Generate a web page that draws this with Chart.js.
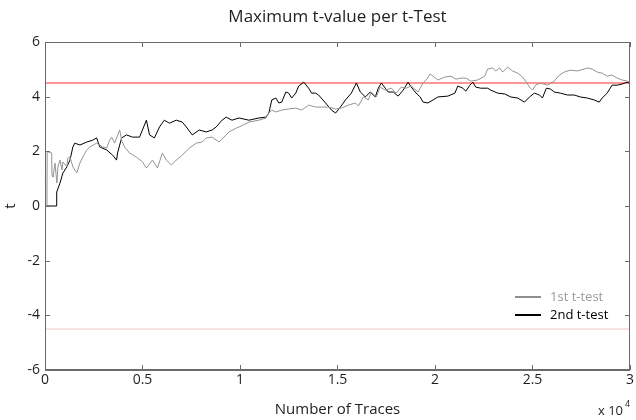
<!DOCTYPE html>
<html lang="en">
<head>
<meta charset="UTF-8" />
<title>Maximum t-value per t-Test</title>
<script src="https://cdn.jsdelivr.net/npm/chart.js"></script>
<style>
  body { margin: 0; background: #fff; }
  canvas { display: block; }
</style>
</head>
<body>
<canvas id="chart" width="636" height="420"></canvas>
<script>
// values (x = number of traces, y = t)
const firstTraces = [0, 100, 110, 340, 360, 410, 510, 610, 660, 770, 870, 920, 1120, 1170, 1280, 1430, 1630, 1790, 1940, 2140, 2300, 2650, 2960, 3160, 3320, 3420, 3570, 3830, 3930, 4080, 4340, 4690, 5000, 5200, 5510, 5770, 6020, 6220, 6480, 6730, 7040, 7400, 7760, 8060, 8270, 8570, 8930, 9180, 9440, 9800, 9950, 10460, 10970, 11330, 11480, 11630, 11840, 12140, 12500, 12860, 13160, 13520, 13880, 14180, 14540, 14900, 15200, 15560, 15920, 16070, 16330, 16580, 16740, 16990, 17190, 17450, 17760, 18010, 18270, 18520, 18780, 19130, 19390, 19540, 19750, 19900, 20150, 20510, 20820, 21070, 21330, 21580, 21840, 22190, 22550, 22700, 22960, 23110, 23320, 23470, 23720, 23980, 24240, 24490, 24640, 24850, 25000, 25150, 25410, 25770, 26120, 26380, 26630, 26940, 27300, 27650, 27810, 28060, 28320, 28570, 28830, 29080, 29340, 29590, 29850, 30000];
const firstT = [0, 0, 1.99, 1.94, 1.13, 1.06, 1.57, 0.84, 1.43, 1.68, 1.32, 1.61, 1.43, 1.75, 1.79, 1.43, 1.21, 1.57, 1.79, 2.05, 2.16, 2.30, 2.16, 2.12, 2.41, 2.52, 2.30, 2.78, 2.41, 2.16, 1.94, 1.79, 1.61, 1.39, 1.68, 1.39, 1.94, 1.68, 1.50, 1.68, 1.86, 2.12, 2.30, 2.34, 2.49, 2.52, 2.34, 2.52, 2.71, 2.85, 2.89, 3.07, 3.14, 3.22, 3.40, 3.51, 3.44, 3.51, 3.55, 3.58, 3.51, 3.69, 3.62, 3.62, 3.62, 3.55, 3.58, 3.69, 3.77, 3.66, 3.99, 3.88, 4.17, 3.99, 4.35, 4.24, 4.31, 4.13, 4.35, 4.31, 4.39, 4.17, 4.50, 4.61, 4.83, 4.75, 4.61, 4.72, 4.75, 4.64, 4.68, 4.68, 4.57, 4.61, 4.75, 5.01, 5.05, 4.94, 5.05, 4.90, 5.08, 4.94, 4.86, 4.72, 4.57, 4.35, 4.24, 4.42, 4.50, 4.42, 4.57, 4.79, 4.90, 4.97, 4.94, 5.01, 5.05, 5.01, 4.90, 4.86, 4.75, 4.79, 4.68, 4.61, 4.57, 4.53];

const secondTraces = [0, 590, 600, 770, 920, 1120, 1280, 1430, 1530, 1790, 2140, 2450, 2650, 2810, 3160, 3470, 3670, 3720, 3930, 4180, 4490, 4850, 5200, 5360, 5610, 5870, 6120, 6380, 6730, 7040, 7250, 7550, 7910, 8270, 8570, 8780, 9080, 9290, 9590, 9950, 10460, 10970, 11330, 11480, 11630, 11840, 11990, 12140, 12350, 12500, 12650, 12860, 13010, 13270, 13520, 13670, 13880, 14030, 14390, 14690, 14900, 15150, 15410, 15710, 15970, 16170, 16430, 16680, 16940, 17090, 17250, 17450, 17600, 17860, 18110, 18370, 18620, 18780, 19030, 19240, 19390, 19640, 19900, 20150, 20660, 21020, 21170, 21430, 21580, 21790, 21940, 22090, 22350, 22700, 22860, 23210, 23570, 23880, 24240, 24590, 24850, 25100, 25360, 25510, 25710, 25920, 26120, 26430, 26790, 27140, 27450, 27810, 28160, 28420, 28570, 28830, 29080, 29340, 29590, 29850, 29950];
const secondT = [0, 0, 0.51, 0.84, 1.21, 1.43, 1.68, 2.16, 2.30, 2.23, 2.34, 2.41, 2.49, 2.16, 2.05, 1.86, 1.68, 1.94, 2.49, 2.60, 2.52, 2.52, 3.14, 2.60, 2.49, 2.89, 3.14, 3.03, 3.14, 3.07, 2.89, 2.60, 2.78, 2.71, 2.78, 2.89, 3.14, 3.25, 3.14, 3.22, 3.14, 3.22, 3.25, 3.40, 3.88, 3.95, 3.77, 3.80, 4.17, 4.13, 3.95, 4.13, 4.39, 4.53, 4.31, 4.13, 4.13, 4.06, 3.77, 3.51, 3.40, 3.62, 3.88, 4.13, 4.50, 4.17, 3.99, 4.17, 3.99, 4.31, 4.50, 4.31, 4.17, 4.17, 4.02, 4.24, 4.53, 4.35, 4.13, 3.99, 3.80, 3.77, 3.88, 3.99, 4.02, 4.13, 4.39, 4.31, 4.20, 4.42, 4.53, 4.35, 4.31, 4.31, 4.24, 4.13, 4.10, 3.99, 3.95, 3.80, 3.99, 4.13, 4.06, 3.95, 4.31, 4.28, 4.17, 4.13, 4.06, 4.06, 3.99, 3.95, 3.88, 3.80, 3.95, 4.13, 4.42, 4.42, 4.46, 4.53, 4.50];

const thresholds = [4.5, -4.5];
const xRange = [0, 30000];
const yRange = [-6, 6];
const seriesNames = ["1st t-test", "2nd t-test"];

const textColor = "#1f1f1f";
const boxColor = "#6b6b6b";

function toPoints(xs, ys) {
  return xs.map((x, i) => ({ x: x, y: ys[i] }));
}

// box, inward ticks, legend and the x10^4 exponent
const matlabAxes = {
  id: "matlabAxes",
  afterDraw(chart) {
    const ctx = chart.ctx;
    const a = chart.chartArea;
    const xs = chart.scales.x, ys = chart.scales.y;
    ctx.save();
    ctx.strokeStyle = boxColor;
    ctx.lineWidth = 1;
    ctx.strokeRect(a.left + 0.5, a.top + 0.5, a.right - a.left - 1, a.bottom - a.top - 1);
    ctx.beginPath();
    xs.ticks.forEach(t => {
      const px = Math.round(xs.getPixelForValue(t.value)) + 0.5;
      ctx.moveTo(px, a.bottom); ctx.lineTo(px, a.bottom - 5);
      ctx.moveTo(px, a.top); ctx.lineTo(px, a.top + 5);
    });
    ys.ticks.forEach(t => {
      const py = Math.round(ys.getPixelForValue(t.value)) + 0.5;
      ctx.moveTo(a.left, py); ctx.lineTo(a.left + 5, py);
      ctx.moveTo(a.right, py); ctx.lineTo(a.right - 5, py);
    });
    ctx.stroke();

    // legend
    const items = [
      { label: seriesNames[0], color: "#8f8f8f", text: "#9a9a9a", y: a.bottom - 73 },
      { label: seriesNames[1], color: "#000000", text: "#000000", y: a.bottom - 55 }
    ];
    ctx.font = "13px 'Open Sans'";
    ctx.textBaseline = "middle";
    ctx.textAlign = "left";
    items.forEach(it => {
      ctx.strokeStyle = it.color;
      ctx.lineWidth = 2;
      ctx.beginPath();
      ctx.moveTo(a.right - 115, it.y); ctx.lineTo(a.right - 89, it.y);
      ctx.stroke();
      ctx.fillStyle = it.text;
      ctx.fillText(it.label, a.right - 80, it.y);
    });

    // exponent
    ctx.fillStyle = textColor;
    ctx.font = "13px 'Open Sans'";
    ctx.fillText("x 10", a.right - 32, 411);
    ctx.font = "9px 'Open Sans'";
    ctx.fillText("4", a.right - 5, 404);
    ctx.restore();
  }
};

new Chart(document.getElementById("chart").getContext("2d"), {
  type: "line",
  data: {
    datasets: [
      {
        label: seriesNames[0],
        data: toPoints(firstTraces, firstT),
        borderColor: "#939393",
        borderWidth: 1
      },
      {
        label: seriesNames[1],
        data: toPoints(secondTraces, secondT),
        borderColor: "#000000",
        borderWidth: 1
      },
      {
        label: "upper",
        data: toPoints(xRange, [thresholds[0], thresholds[0]]),
        borderColor: "#ff2a2a",
        borderWidth: 1
      },
      {
        label: "lower",
        data: toPoints(xRange, [thresholds[1], thresholds[1]]),
        borderColor: "#f6c4c4",
        borderWidth: 1
      }
    ]
  },
  options: {
    responsive: false,
    animation: false,
    devicePixelRatio: 1,
    elements: { point: { radius: 0 }, line: { tension: 0 } },
    layout: { padding: { top: 0, right: 4, left: 0, bottom: 0 } },
    plugins: {
      legend: { display: false },
      tooltip: { enabled: false },
      title: {
        display: true,
        text: "Maximum t-value per t-Test",
        fullSize: false,
        color: textColor,
        font: { family: "'Open Sans'", size: 17, weight: "normal" },
        padding: { top: 7, bottom: 14.6 }
      }
    },
    scales: {
      x: {
        type: "linear",
        min: xRange[0],
        max: xRange[1],
        afterFit: s => { s.height = 50; },
        grid: { display: false, drawTicks: false },
        border: { display: true, color: boxColor },
        ticks: {
          stepSize: 5000,
          padding: 2,
          color: textColor,
          maxRotation: 0,
          font: { family: "'Open Sans'", size: 14 },
          callback: v => String(v / 10000)
        },
        title: {
          display: true,
          text: "Number of Traces",
          color: textColor,
          font: { family: "'Open Sans'", size: 15 },
          padding: { top: 0, bottom: 1 }
        }
      },
      y: {
        min: yRange[0],
        max: yRange[1],
        afterFit: s => { s.width = 45; },
        grid: { display: false, drawTicks: false },
        border: { display: true, color: boxColor },
        ticks: {
          stepSize: 2,
          padding: 5,
          color: textColor,
          font: { family: "'Open Sans'", size: 14 }
        },
        title: {
          display: true,
          text: "t",
          color: textColor,
          font: { family: "'Open Sans'", size: 15 },
          padding: { top: 2, bottom: 0 }
        }
      }
    }
  },
  plugins: [matlabAxes]
});
</script>
</body>
</html>
